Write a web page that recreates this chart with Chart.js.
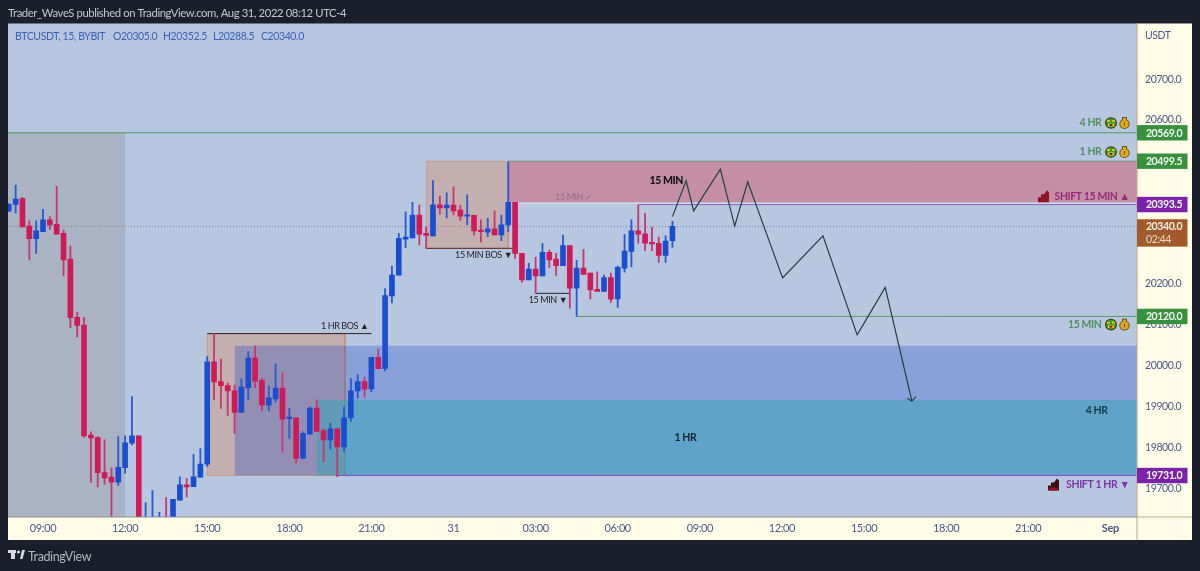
<!DOCTYPE html>
<html>
<head>
<meta charset="utf-8">
<title>BTCUSDT 15</title>
<script src="https://cdn.jsdelivr.net/npm/chart.js@4"></script>
<style>
html,body{margin:0;padding:0;background:#1a1f2b;overflow:hidden}
canvas{display:block}
</style>
</head>
<body>
<canvas id="chart" width="1200" height="571"></canvas>
<script>
// candles, one entry per 15 min bar, starting at bar -5 (bar 0 = 09:00)
const firstBar = -5;
const opens = [20378,20394,20408,20341,20310,20327,20356,20345,20323,20260,20118,20099,19830,19824,19738,19727,19715,19750,19810,19828,19595,19600,19605,19625,19610,19671,19708,19704,19727,19759,20009,19961,19951,19938,19885,19945,20018,19964,19903,19918,19945,19870,19872,19773,19832,19896,19840,19818,19845,19801,19872,19938,19961,19943,20020,19993,20170,20221,20309,20312,20368,20323,20317,20393,20385,20392,20380,20365,20367,20331,20326,20334,20319,20344,20399,20274,20209,20236,20219,20277,20260,20244,20293,20189,20238,20226,20186,20181,20215,20163,20238,20279,20329,20322,20301,20299,20269,20305];
const highs = [20396,20441,20411,20354,20354,20382,20364,20439,20331,20292,20130,20118,19838,19826,19818,19750,19826,19828,19924,19828,19665,19694,19641,19677,19673,19728,19724,19783,19797,20022,20078,20016,19957,19952,19968,20034,20048,19969,19950,20004,19982,19895,19872,19838,19899,19916,19846,19859,19845,19899,19968,19978,19972,20020,20040,20188,20243,20323,20376,20399,20392,20339,20452,20414,20422,20437,20392,20417,20367,20356,20360,20378,20368,20498,20399,20274,20250,20265,20299,20282,20274,20319,20293,20257,20284,20226,20229,20221,20226,20243,20321,20356,20392,20372,20338,20314,20317,20352.5];
const lows = [20376,20373,20339,20258,20274,20327,20333,20321,20219,20092,20070,19824,19714,19703,19710,19600,19707,19737,19806,19590,19585,19590,19595,19590,19600,19671,19678,19704,19727,19753,19916,19895,19877,19834,19885,19916,19946,19889,19889,19911,19788,19822,19761,19773,19832,19839,19765,19795,19728,19790,19863,19920,19922,19936,19992,19987,20153,20221,20288,20312,20295,20286,20317,20370,20361,20368,20355,20344,20319,20302,20315,20319,20305,20327,20262,20204,20209,20177,20219,20240,20220,20244,20140,20120,20223,20163,20181,20181,20154,20142,20228,20241,20299,20281,20281,20252,20252,20288.5];
const closes = [20394,20407,20339,20310,20329,20356,20344,20321,20258,20117,20098,19828,19823,19738,19725,19715,19751,19811,19828,19600,19620,19622,19625,19600,19673,19708,19703,19728,19759,20009,19960,19951,19938,19885,19947,20018,19962,19903,19921,19945,19869,19872,19773,19834,19896,19839,19818,19845,19801,19872,19938,19961,19942,20020,19992,20171,20221,20311,20314,20368,20321,20318,20393,20385,20392,20378,20365,20368,20329,20327,20334,20319,20344,20399,20274,20209,20236,20219,20277,20258,20244,20293,20189,20238,20223,20185,20181,20215,20162,20240,20280,20329,20321,20299,20297,20269,20304,20340];

// axes
const priceTicks = [20700,20600,20500,20400,20300,20200,20100,20000,19900,19800,19700];
const timeTicks = [0,12,24,36,48,60,72,84,96,108,120,132,144,156];
const timeLabels = ['09:00','12:00','15:00','18:00','21:00','31','03:00','06:00','09:00','12:00','15:00','18:00','21:00','Sep'];
const barMin = -5.117, barMax = 159.9, priceMin = 19629.6, priceMax = 20836.2;

// hand drawn projection
const pathBars = [92,94,95.1,99,101.1,103,108.1,114,119,123.1,127];
const pathPrices = [20364,20452,20378,20480,20341,20449,20214,20317,20075,20191,19913];
const headBars = [126.3,127,127.6];
const headPrices = [19920,19913,19924];

const BLUE = '#1a4ecf', RED = '#cf1a58', WICK_BLUE = '#2b5ccf', WICK_RED = '#c43a72';

const candleIdx = opens.map((_, i) => i);
const isUp = i => closes[i] >= opens[i];

// filled zone, plus an outline when a stroke colour is given
function box(x0, x1, hi, lo, fill, stroke, order) {
  const sets = [{ type:'line', order, data:[{x:x0,y:hi},{x:x1,y:hi}], fill:{value:lo}, backgroundColor:fill, borderWidth:0, pointRadius:0, tension:0 }];
  if (stroke) sets.push({ type:'line', order, data:[{x:x0,y:hi},{x:x1,y:hi},{x:x1,y:lo},{x:x0,y:lo},{x:x0,y:hi}], fill:false, borderColor:stroke, borderWidth:1, pointRadius:0, tension:0 });
  return sets;
}
function hline(x0, x1, price, color, order, dash) {
  return { type:'line', order, data:[{x:x0,y:price},{x:x1,y:price}], borderColor:color, borderWidth:1,
    borderDash:dash || [], pointRadius:0, fill:false };
}
function polyline(xs, ys, color, order) {
  return { type:'line', order, data:xs.map((x,i)=>({x,y:ys[i]})), borderColor:color, borderWidth:1.2, pointRadius:0, fill:false, tension:0 };
}

const datasets = [
  ...box(barMin, 12, 20569, priceMin, '#a9b3c4', null, 20),
  ...box(68, barMax, 20499.5, 20399, 'rgba(208,90,110,0.52)', null, 19),
  ...box(24, 44.15, 20078, 19731, 'rgba(218,133,87,0.35)', 'rgba(205,125,80,0.5)', 18),
  ...box(56, 68, 20499.5, 20286.5, 'rgba(218,133,87,0.35)', 'rgba(205,125,80,0.4)', 18),
  ...box(28, barMax, 20048, 19731, 'rgba(0,44,192,0.25)', null, 17),
  ...box(40, barMax, 19916, 19731, 'rgba(52,166,184,0.5)', null, 16),
  hline(barMin, barMax, 20340, '#7e848f', 15, [1,2]),
  hline(barMin, barMax, 20569, '#4f9a5f', 15),
  hline(68, barMax, 20499.5, '#7b8f7c', 15),
  hline(68, barMax, 20396.5, '#d9dfe8', 15),
  hline(87, barMax, 20393.5, '#8a62c0', 14),
  hline(78, barMax, 20120, '#5e9a6a', 15),
  hline(43, barMax, 19731, '#8450c4', 14),
  hline(24, 48, 20078, '#2a2028', 14),
  hline(56, 68.7, 20286.5, '#55261c', 14),
  hline(72, 77, 20176.5, '#22242c', 14),
  { type:'bar', order:6, stack:'candle', barThickness:1.2,
    data:candleIdx.map(i=>({x:firstBar+i, y:[lows[i],highs[i]]})),
    backgroundColor:candleIdx.map(i=>isUp(i)?WICK_BLUE:WICK_RED) },
  { type:'bar', order:5, stack:'candle', barThickness:5, minBarLength:1.5,
    data:candleIdx.map(i=>({x:firstBar+i, y:[opens[i],closes[i]]})),
    backgroundColor:candleIdx.map(i=>isUp(i)?BLUE:RED) },
  polyline(pathBars, pathPrices, '#1d4040', 2),
  polyline(headBars, headPrices, '#1d4040', 2)
];

// text labels placed on the chart: text, bar, price, align, colour, font
const F = 'Lato, sans-serif';
const notes = [
  ['4 HR', 154.7, 20593, 'right', '#4f8f62', '700 10.5px '+F],
  ['1 HR', 154.7, 20522, 'right', '#4f8f62', '700 10.5px '+F],
  ['15 MIN', 154.7, 20100, 'right', '#4f8f62', '700 10.5px '+F],
  ['SHIFT 15 MIN \u25B2', 158.8, 20414, 'right', '#9a2a7c', '700 10.5px '+F],
  ['SHIFT 1 HR \u25BC', 158.8, 19709, 'right', '#7a35a8', '700 10.5px '+F],
  ['4 HR', 154, 19889, 'center', '#123a4a', '700 10.5px '+F],
  ['1 HR', 93.9, 19823, 'center', '#16242e', '700 10.5px '+F],
  ['15 MIN', 91.1, 20451, 'center', '#141418', '900 10.5px '+F],
  ['15 MIN \u2713', 77.6, 20412, 'center', '#a0788e', '700 9px '+F],
  ['15 MIN BOS \u25BC', 64.4, 20270, 'center', '#22242c', '400 9px '+F],
  ['15 MIN \u25BC', 73.8, 20160, 'center', '#22242c', '400 9px '+F],
  ['1 HR BOS \u25B2', 44.1, 20097, 'center', '#22242c', '400 9px '+F]
];
// price tags on the right axis
const tags = [
  [20569, '20569.0', '#37913f'],
  [20499.5, '20499.5', '#37913f'],
  [20393.5, '20393.5', '#7b22a8'],
  [20120, '20120.0', '#37913f'],
  [19731, '19731.0', '#7b22a8']
];

function drawFace(ctx, x, y) {
  ctx.fillStyle = '#3f3a12'; ctx.beginPath(); ctx.ellipse(x,y,6,5.8,0,0,7); ctx.fill();
  ctx.fillStyle = '#3a9c22'; ctx.beginPath(); ctx.ellipse(x,y,5,4.8,0,0,7); ctx.fill();
  ctx.fillStyle = '#e6d02c'; ctx.fillRect(x-3,y+0.5,6,3);
  ctx.fillStyle = '#d8c41e'; ctx.fillRect(x-4,y-3,3,2); ctx.fillRect(x+1,y-3,3,2);
  ctx.fillStyle = '#7a1a14'; ctx.fillRect(x-1.5,y+1,3,2);
}
function drawBag(ctx, x, y) {
  ctx.fillStyle = '#6e5210'; ctx.beginPath(); ctx.ellipse(x,y+1,5.2,5,0,0,7); ctx.fill(); ctx.fillRect(x-2.5,y-6,5,3);
  ctx.fillStyle = '#e2aa22'; ctx.beginPath(); ctx.ellipse(x,y+1,4.2,4,0,0,7); ctx.fill(); ctx.fillRect(x-1.5,y-5,3,2);
  ctx.fillStyle = '#8a6410'; ctx.fillRect(x-0.6,y-1,1.2,4);
}
function drawShift(ctx, x, y, up) {
  ctx.fillStyle = up ? '#8d1526' : '#3a0f14';
  ctx.beginPath();
  ctx.moveTo(x,y+6); ctx.lineTo(x,y+1); ctx.lineTo(x+3,y+1); ctx.lineTo(x+3,y-2); ctx.lineTo(x+6,y-2);
  ctx.lineTo(x+9,y-6); ctx.lineTo(x+11,y-4); ctx.lineTo(x+11,y+6);
  ctx.closePath(); ctx.fill();
  if (!up) { ctx.fillStyle = '#8d1526'; ctx.fillRect(x+1,y+3,9,3); }
}

const frame = {
  id:'frame',
  beforeDraw(chart) {
    const {ctx, chartArea:a} = chart;
    ctx.letterSpacing = '-0.4px'; // the picture's font is narrower than Lato
    ctx.save();
    ctx.fillStyle = '#fffde7'; ctx.fillRect(a.left, a.bottom, 1192-a.left, 23); ctx.fillRect(a.right, a.top, 55, a.bottom-a.top);
    ctx.fillStyle = '#b8c7e0'; ctx.fillRect(a.left, a.top, a.right-a.left, a.bottom-a.top);
    ctx.restore();
  },
  afterDraw(chart) {
    const {ctx, chartArea:a, scales:{x, y}} = chart;
    ctx.save();
    ctx.fillStyle = '#8e8f98'; ctx.fillRect(a.left, a.bottom-0.5, a.right-a.left, 1);
    ctx.fillStyle = '#bda888'; ctx.fillRect(a.right, a.bottom-0.5, 55, 1); ctx.fillRect(a.right-0.5, a.top, 1, 540-a.top);
    ctx.textBaseline = 'middle';
    // header, legend, footer
    ctx.textAlign = 'left';
    ctx.font = '11.3px '+F; ctx.fillStyle = '#c4c7cf';
    ctx.fillText('Trader_WaveS published on TradingView.com, Aug 31, 2022 08:12 UTC-4', 8, 13);
    ctx.font = '10.5px '+F; ctx.fillStyle = '#3f62b5';
    ctx.fillText('BTCUSDT, 15, BYBIT', 15, 36.5);
    ctx.fillText('O20305.0', 113, 36.5);
    ctx.fillText('H20352.5', 163, 36.5);
    ctx.fillText('L20288.5', 213, 36.5);
    ctx.fillText('C20340.0', 261, 36.5);
    ctx.fillStyle = '#4d5a8c';
    ctx.fillText('USDT', 1145, 35.5);
    ctx.font = '400 12.5px '+F; ctx.fillStyle = '#b4b7c0';
    ctx.fillText('TradingView', 28, 556.5);
    ctx.fillStyle = '#d8dae0';
    ctx.fillRect(8, 550, 8, 3); ctx.fillRect(11, 550, 4, 9);
    ctx.beginPath(); ctx.arc(18.5, 552, 1.6, 0, 7); ctx.fill();
    ctx.beginPath(); ctx.moveTo(20,559); ctx.lineTo(22,550); ctx.lineTo(25,550); ctx.lineTo(22.5,559); ctx.closePath(); ctx.fill();
    // labels
    notes.forEach(([t, bar, price, align, color, font]) => {
      ctx.font = font; ctx.fillStyle = color; ctx.textAlign = align;
      ctx.fillText(t, x.getPixelForValue(bar), y.getPixelForValue(price));
    });
    // icons
    [20593, 20522, 20100].forEach(p => {
      const py = y.getPixelForValue(p);
      drawFace(ctx, 1111, py); drawBag(ctx, 1124.5, py);
    });
    drawShift(ctx, 1038, y.getPixelForValue(20414), true);
    drawShift(ctx, 1048, y.getPixelForValue(19709), false);
    // price tags
    ctx.textAlign = 'center';
    ctx.font = '700 10.5px '+F;
    tags.forEach(([p, t, c]) => {
      const py = y.getPixelForValue(p);
      ctx.fillStyle = c; ctx.fillRect(a.right, py-7.7, 50.5, 15.4);
      ctx.fillStyle = '#f2f5ee'; ctx.fillText(t, a.right+27, py+0.5);
    });
    const py = y.getPixelForValue(20340);
    ctx.fillStyle = '#a05a2c'; ctx.fillRect(a.right, py-7.2, 50.5, 27.4);
    ctx.fillStyle = '#f5ece2'; ctx.fillText('20340.0', a.right+27, py+0.5);
    ctx.font = '10.5px '+F; ctx.fillStyle = '#ecd8c8';
    ctx.textAlign = 'left'; ctx.fillText('02:44', a.right+9, py+13);
    ctx.restore();
  }
};

new Chart(document.getElementById('chart'), {
  type:'bar',
  data:{ datasets },
  plugins:[frame],
  options:{
    responsive:false, animation:false, events:[],
    layout:{ padding:{ left:8, top:23.5, right:8, bottom:31 } },
    plugins:{ legend:{display:false}, tooltip:{enabled:false}, title:{display:false} },
    scales:{
      x:{ type:'linear', min:barMin, max:barMax, offset:false,
        grid:{display:false, drawTicks:false}, border:{display:false},
        afterFit:s=>{ s.height = 23; },
        afterBuildTicks:s=>{ s.ticks = timeTicks.map(v=>({value:v})); },
        ticks:{ autoSkip:false, maxRotation:0, padding:5, color:'#4d5a8c',
          font:c=>({ family:'Lato, sans-serif', size:11, weight:timeLabels[c.index]==='Sep'?'700':'400' }),
          callback:(v,i)=>timeLabels[i] } },
      y:{ position:'right', min:priceMin, max:priceMax, stacked:false,
        grid:{display:false, drawTicks:false}, border:{display:false},
        afterFit:s=>{ s.width = 55; },
        afterBuildTicks:s=>{ s.ticks = priceTicks.map(v=>({value:v})); },
        ticks:{ padding:8, color:'#4d5a8c', font:{ family:'Lato, sans-serif', size:10.5 },
          callback:v=>v.toFixed(1) } }
    }
  }
});
</script>
</body>
</html>
